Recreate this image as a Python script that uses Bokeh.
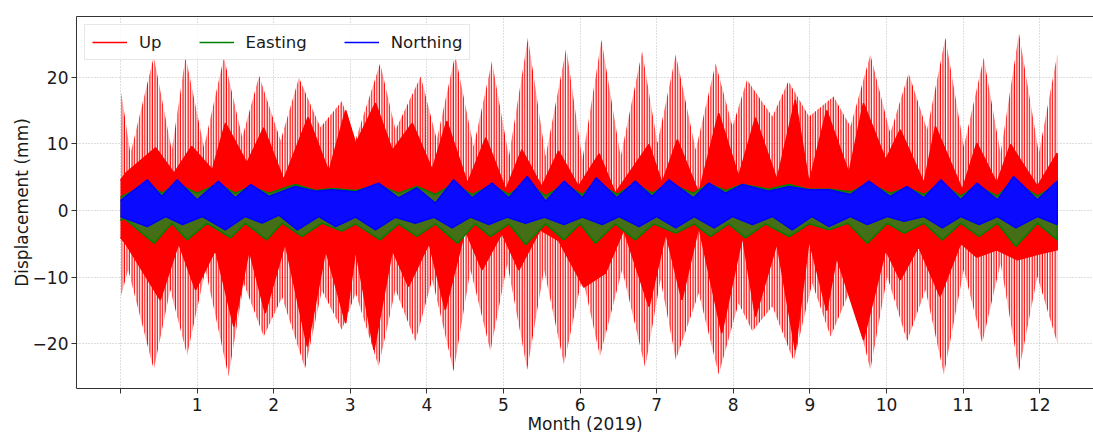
from bokeh.plotting import figure
from bokeh.models import Range1d, FixedTicker, LinearAxis, Legend, LegendItem
from bokeh.embed import file_html
from bokeh.resources import INLINE

# ---- data (months of 2019, displacement in mm) ----
up_outer_hi_t = [0.01, 0.13, 0.435, 0.67, 0.85, 1.09, 1.35, 1.59, 1.81, 2.09, 2.33, 2.61, 2.89, 3.07, 3.39, 3.59,
                 3.92, 4.13, 4.37, 4.61, 4.85, 5.07, 5.32, 5.55, 5.82, 6.03, 6.28, 6.53, 6.81, 7.01, 7.25, 7.51,
                 7.77, 7.99, 8.18, 8.51, 8.72, 8.99, 9.31, 9.53, 9.79, 10.05, 10.29, 10.53, 10.77, 11.01, 11.27,
                 11.49, 11.73, 11.99, 12.23]
up_outer_hi_v = [17.7, 8.5, 23.1, 9.0, 23.1, 9.5, 23.0, 11.0, 20.2, 10.5, 19.9, 12.5, 16.4, 10.6, 22.1, 12.1,
                 20.1, 10.6, 23.4, 9.6, 22.4, 8.1, 25.9, 8.1, 24.4, 7.6, 25.6, 8.1, 23.9, 10.1, 23.4, 9.1,
                 22.1, 12.6, 19.6, 14.1, 19.4, 14.1, 17.1, 12.6, 23.4, 11.6, 20.6, 12.1, 25.9, 9.6, 22.9,
                 8.6, 26.6, 8.6, 23.4]
up_outer_lo_t = [0.01, 0.10, 0.435, 0.65, 0.87, 1.11, 1.41, 1.61, 1.87, 2.11, 2.41, 2.63, 2.89, 3.07, 3.37, 3.59,
                 3.85, 4.07, 4.35, 4.57, 4.83, 5.05, 5.31, 5.53, 5.79, 6.03, 6.26, 6.55, 6.85, 7.05, 7.25, 7.55,
                 7.81, 8.07, 8.25, 8.51, 8.79, 9.03, 9.27, 9.53, 9.79, 10.01, 10.27, 10.51, 10.75, 11.01, 11.25,
                 11.49, 11.73, 11.97, 12.23]
up_outer_lo_v = [-12.7, -8.9, -23.9, -11.9, -21.7, -8.9, -24.9, -11.0, -18.9, -13.0, -23.7, -12.0, -17.9, -12.4,
                 -23.4, -11.9, -19.6, -10.4, -24.1, -8.9, -21.1, -8.0, -23.9, -8.9, -23.1, -9.9, -21.9, -8.9,
                 -23.6, -10.4, -22.4, -12.4, -24.6, -13.9, -18.1, -14.4, -22.6, -10.9, -18.9, -11.9, -23.9, -9.9,
                 -19.6, -11.9, -24.6, -8.9, -19.9, -7.9, -24.1, -9.9, -19.9]
up_inner_hi_t = [0.0, 0.07, 0.46, 0.70, 0.93, 1.20, 1.37, 1.65, 1.87, 2.13, 2.45, 2.72, 2.94, 3.07, 3.33, 3.55,
                 3.81, 4.07, 4.26, 4.53, 4.77, 5.03, 5.24, 5.50, 5.72, 5.98, 6.25, 6.46, 6.90, 7.07, 7.27, 7.55,
                 7.81, 8.07, 8.29, 8.57, 8.81, 8.99, 9.22, 9.51, 9.70, 9.99, 10.18, 10.49, 10.64, 10.99, 11.18,
                 11.44, 11.62, 11.97, 12.23]
up_inner_hi_v = [4.5, 5.6, 9.4, 5.6, 9.6, 6.1, 13.1, 7.1, 12.4, 4.6, 14.0, 5.8, 15.0, 10.0, 16.1, 9.0, 13.1, 6.1,
                 13.4, 4.1, 10.9, 3.1, 9.1, 3.6, 8.9, 3.6, 8.5, 2.6, 9.9, 4.1, 10.6, 2.6, 14.6, 5.1, 13.9, 4.6,
                 16.6, 4.1, 15.0, 5.6, 16.1, 7.6, 12.1, 4.1, 12.6, 3.1, 10.1, 4.1, 9.9, 3.6, 8.6]
up_inner_lo_t = [0.0, 0.07, 0.52, 0.76, 0.98, 1.24, 1.48, 1.68, 1.89, 2.15, 2.44, 2.68, 2.94, 3.07, 3.31, 3.55,
                 3.76, 4.03, 4.24, 4.50, 4.72, 4.98, 5.20, 5.48, 5.72, 6.05, 6.33, 6.57, 6.90, 7.12, 7.33, 7.55,
                 7.85, 8.12, 8.29, 8.57, 8.81, 8.99, 9.22, 9.35, 9.70, 9.99, 10.18, 10.42, 10.70, 10.97, 11.18,
                 11.44, 11.71, 12.00, 12.23]
up_inner_lo_v = [-4.0, -5.0, -13.4, -4.9, -11.9, -5.9, -17.4, -5.9, -15.4, -4.9, -20.4, -5.9, -16.9, -5.9, -20.9,
                 -5.9, -11.4, -4.9, -14.9, -2.9, -8.9, -3.4, -8.9, -2.9, -4.5, -11.5, -9.4, -2.9, -14.4, -3.4,
                 -13.4, -2.4, -18.4, -3.9, -15.9, -4.9, -20.9, -4.4, -15.0, -7.0, -19.4, -5.9, -10.4, -5.4, -12.9,
                 -4.9, -7.0, -5.9, -7.4, -6.5, -5.9]

east_hi_t = [0.0, 0.35, 0.54, 0.74, 1.00, 1.28, 1.50, 1.70, 1.94, 2.28, 2.55, 2.76, 3.07, 3.37, 3.63, 3.87, 4.11,
             4.35, 4.59, 4.85, 5.07, 5.31, 5.55, 5.79, 6.03, 6.21, 6.48, 6.72, 6.94, 7.16, 7.48, 7.68, 7.90, 8.12,
             8.46, 8.73, 8.98, 9.25, 9.53, 9.77, 10.05, 10.27, 10.49, 10.71, 10.97, 11.18, 11.45, 11.66, 11.97, 12.23]
east_hi_v = [2.0, 4.0, 2.6, 4.0, 2.6, 4.0, 2.6, 3.6, 2.6, 3.9, 3.0, 3.3, 3.0, 3.8, 2.6, 3.6, 2.4, 4.0, 2.4, 3.8,
             2.4, 4.2, 2.2, 3.9, 2.4, 4.3, 2.4, 4.0, 2.6, 4.0, 2.6, 4.0, 3.0, 3.9, 3.2, 3.9, 3.2, 3.2, 2.8, 4.0,
             2.6, 3.4, 2.4, 4.0, 2.2, 3.7, 2.2, 4.4, 2.2, 3.8]
east_lo_t = [0.0, 0.05, 0.44, 0.67, 0.87, 1.13, 1.44, 1.63, 1.91, 2.11, 2.37, 2.63, 2.89, 3.07, 3.39, 3.63, 3.87,
             4.11, 4.40, 4.63, 4.83, 5.07, 5.29, 5.55, 5.79, 6.00, 6.20, 6.46, 6.72, 6.96, 7.25, 7.49, 7.70, 7.94,
             8.16, 8.42, 8.73, 8.99, 9.25, 9.50, 9.75, 10.01, 10.23, 10.49, 10.73, 10.97, 11.21, 11.45, 11.69,
             11.97, 12.23]
east_lo_v = [-1.5, -1.2, -4.9, -1.9, -4.4, -1.9, -4.1, -1.9, -4.4, -1.9, -3.9, -1.9, -3.1, -2.0, -4.4, -2.0, -3.9,
             -2.0, -4.9, -2.0, -3.9, -2.0, -5.1, -2.0, -4.4, -2.0, -4.9, -2.0, -4.4, -2.0, -3.4, -2.0, -3.9, -2.0,
             -4.1, -2.0, -3.9, -2.0, -2.9, -1.9, -4.9, -1.9, -3.4, -1.9, -4.4, -1.9, -3.9, -1.9, -5.4, -1.9, -4.4]

north_hi_t = [0.0, 0.35, 0.54, 0.74, 1.00, 1.28, 1.50, 1.70, 1.94, 2.28, 2.55, 2.76, 3.07, 3.37, 3.63, 3.87, 4.11,
              4.35, 4.59, 4.85, 5.07, 5.31, 5.55, 5.79, 6.03, 6.21, 6.48, 6.72, 6.94, 7.16, 7.48, 7.68, 7.90, 8.12,
              8.46, 8.73, 8.98, 9.25, 9.53, 9.77, 10.05, 10.27, 10.49, 10.71, 10.97, 11.18, 11.45, 11.66, 11.97, 12.23]
north_hi_v = [1.5, 4.6, 2.1, 4.6, 1.6, 4.4, 1.9, 3.9, 2.1, 3.6, 2.9, 3.1, 2.8, 4.1, 1.9, 3.4, 1.1, 4.6, 1.9, 4.1,
              1.9, 5.1, 1.4, 4.4, 1.9, 4.9, 1.9, 4.4, 2.1, 4.6, 1.9, 4.1, 2.6, 3.9, 2.9, 3.6, 3.1, 3.1, 2.4, 4.4,
              2.1, 3.6, 1.9, 4.6, 1.6, 4.1, 1.6, 5.1, 1.6, 4.4]
north_lo_t = [0.0, 0.35, 0.59, 0.81, 1.07, 1.37, 1.63, 1.85, 2.07, 2.31, 2.59, 2.81, 3.07, 3.33, 3.59, 3.85, 4.09,
              4.33, 4.57, 4.81, 5.05, 5.29, 5.53, 5.79, 6.03, 6.29, 6.51, 6.77, 7.00, 7.25, 7.49, 7.75, 7.99, 8.25,
              8.51, 8.77, 9.03, 9.25, 9.53, 9.75, 10.01, 10.23, 10.49, 10.73, 10.97, 11.21, 11.45, 11.69, 11.97, 12.23]
north_lo_v = [-0.9, -2.4, -0.9, -2.1, -0.9, -2.9, -0.9, -1.9, -0.7, -2.9, -0.9, -2.4, -1.0, -2.9, -1.0, -1.9, -1.0,
              -2.6, -1.0, -2.1, -1.0, -1.9, -1.0, -2.1, -1.0, -2.1, -0.9, -2.4, -0.9, -2.6, -0.9, -2.6, -0.9, -2.1,
              -0.9, -2.9, -0.9, -2.4, -0.9, -2.1, -0.9, -1.6, -0.9, -2.6, -0.9, -2.1, -0.9, -2.6, -0.9, -2.1]

month_ticks = list(range(0, 13))
mm_ticks = [-20, -10, 0, 10, 20]
series_names = ["Up", "Easting", "Northing"]
series_colors = ["red", "green", "blue"]

FONT = "DejaVu Sans"
TXT = "#1a1a1a"


def band(ht, hv, lt, lv):
    return list(ht) + list(lt)[::-1], list(hv) + list(lv)[::-1]


p = figure(width=1093, height=437, output_backend="svg", toolbar_location=None,
           x_range=Range1d(-0.574, 12.703), y_range=Range1d(-26.7, 29.1),
           min_border_left=76, min_border_right=0, min_border_top=16, min_border_bottom=49)
p.outline_line_color = None
p.background_fill_color = "white"

# Up: outer daily-peak texture and dense inner band
ox, oy = band(up_outer_hi_t, up_outer_hi_v, up_outer_lo_t, up_outer_lo_v)
p.patch(ox, oy, fill_alpha=0, line_color=None, hatch_pattern="vertical_line",
        hatch_color="red", hatch_scale=2.55, hatch_weight=1.8, hatch_alpha=1.0)
ix, iy = band(up_inner_hi_t, up_inner_hi_v, up_inner_lo_t, up_inner_lo_v)
p.patch(ix, iy, fill_color="red", line_color=None)
r_up = p.line(ix, iy, line_color=series_colors[0], line_width=1.5)

ex, ey = band(east_hi_t, east_hi_v, east_lo_t, east_lo_v)
p.patch(ex, ey, fill_color="#446f16", line_color=None)
r_east = p.line(ex, ey, line_color=series_colors[1], line_width=1.5)

nx, ny = band(north_hi_t, north_hi_v, north_lo_t, north_lo_v)
p.patch(nx, ny, fill_color="#0a0aff", line_color=None)
r_north = p.line(nx, ny, line_color=series_colors[2], line_width=1.5)

items = [LegendItem(label=n, renderers=[r]) for n, r in zip(series_names, [r_up, r_east, r_north])]
leg = Legend(items=items, orientation="horizontal", location="top_left",
             label_text_font=FONT, label_text_font_size="16.5px", label_text_color=TXT,
             glyph_width=35, glyph_height=20, label_standoff=12, spacing=37, padding=7, margin=8,
             border_line_color="#d0d0d0", border_line_width=1,
             background_fill_color="white", background_fill_alpha=0.85)
p.add_layout(leg)

# axes
for ax in (p.xaxis[0], p.yaxis[0]):
    ax.axis_line_color = "#333333"
    ax.major_tick_line_color = "#333333"
    ax.major_tick_out = 5
    ax.major_tick_in = 0
    ax.minor_tick_out = 0
    ax.minor_tick_in = 0
    ax.major_label_text_font = FONT
    ax.major_label_text_font_size = "17px"
    ax.major_label_text_color = TXT
    ax.axis_label_text_font = FONT
    ax.axis_label_text_font_size = "17px"
    ax.axis_label_text_font_style = "normal"
    ax.axis_label_text_color = TXT

p.xaxis.ticker = FixedTicker(ticks=month_ticks)
p.xaxis.major_label_overrides = {0: ""}
p.xaxis.axis_label = "Month (2019)"
p.xaxis.major_label_standoff = 4
p.xaxis.axis_label_standoff = 0

p.yaxis.ticker = FixedTicker(ticks=mm_ticks)
p.yaxis.major_label_overrides = {-20: "\u221220", -10: "\u221210"}
p.yaxis.axis_label = "Displacement (mm)"
p.yaxis.major_label_standoff = 3
p.yaxis.axis_label_standoff = -2

top = LinearAxis(ticker=FixedTicker(ticks=[]), major_tick_out=0, major_tick_in=0, minor_tick_out=0,
                 minor_tick_in=0, major_label_text_font_size="0px", major_label_standoff=0,
                 axis_line_color="#333333")
p.add_layout(top, "above")

p.xgrid.ticker = FixedTicker(ticks=month_ticks)
p.ygrid.ticker = FixedTicker(ticks=mm_ticks)
p.grid.grid_line_color = "#bdbdbd"
p.grid.grid_line_dash = "1 2"
p.grid.grid_line_width = 1

open("out.html", "w").write(file_html(p, INLINE))
